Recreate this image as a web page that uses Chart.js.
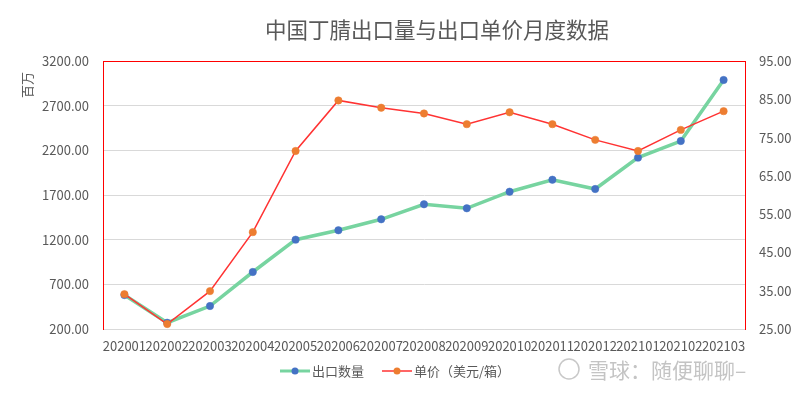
<!DOCTYPE html>
<html>
<head>
<meta charset="utf-8">
<script src="https://cdn.jsdelivr.net/npm/chart.js@4"></script>
<style>
  html, body { margin: 0; padding: 0; background: #fff; }
  #wrap { width: 800px; height: 394px; position: relative; }
</style>
</head>
<body>
<div id="wrap"><canvas id="exportChart"></canvas></div>
<script>
// data
const months = ["202001", "202002", "202003", "202004", "202005", "202006", "202007", "202008",
  "202009", "202010", "202011", "202012", "202101", "202102", "202103"];
const exportVolume = [580, 270, 457, 838, 1200, 1305, 1428, 1596, 1551, 1737, 1871, 1767, 2118, 2304, 2987];
const unitPrice = [34.1, 26.3, 34.9, 50.3, 71.5, 84.7, 82.8, 81.3, 78.5, 81.6, 78.5, 74.4, 71.5, 77.0, 81.9];
const leftRange = [200, 3200, 500];
const rightRange = [25, 95, 10];

const FONT = '"Noto Sans CJK SC", "Noto Sans", sans-serif';
const TEXT = "#595959";

// title, axis unit, top border, legend and watermark
const extras = {
  id: "extras",
  afterDraw(chart) {
    const ctx = chart.ctx;
    const a = chart.chartArea;
    ctx.save();
    // top red border
    ctx.strokeStyle = "#FF0000";
    ctx.lineWidth = 1;
    ctx.beginPath();
    ctx.moveTo(a.left, a.top + 0.5);
    ctx.lineTo(a.right, a.top + 0.5);
    ctx.stroke();

    // title
    ctx.fillStyle = TEXT;
    ctx.font = "21.5px " + FONT;
    ctx.textAlign = "center";
    ctx.textBaseline = "middle";
    ctx.fillText("中国丁腈出口量与出口单价月度数据", 437, 30);

    // unit label
    ctx.save();
    ctx.translate(27, 85);
    ctx.rotate(-Math.PI / 2);
    ctx.font = "13px " + FONT;
    ctx.fillText("百万", 0, 0);
    ctx.restore();

    // legend
    const ly = 371;
    ctx.lineWidth = 3;
    ctx.strokeStyle = "#77D4A0";
    ctx.beginPath(); ctx.moveTo(280, ly); ctx.lineTo(310, ly); ctx.stroke();
    ctx.fillStyle = "#4472C4";
    ctx.beginPath(); ctx.arc(295, ly, 3.5, 0, Math.PI * 2); ctx.fill();
    ctx.lineWidth = 1.5;
    ctx.strokeStyle = "#FF3333";
    ctx.beginPath(); ctx.moveTo(382, ly); ctx.lineTo(412, ly); ctx.stroke();
    ctx.fillStyle = "#ED7D31";
    ctx.beginPath(); ctx.arc(397, ly, 3.5, 0, Math.PI * 2); ctx.fill();
    ctx.fillStyle = TEXT;
    ctx.font = "13px " + FONT;
    ctx.textAlign = "left";
    ctx.fillText("出口数量", 312, ly);
    ctx.fillText("单价（美元/箱）", 414, ly);

    // watermark
    ctx.strokeStyle = "#C8C8C8";
    ctx.lineWidth = 1.5;
    ctx.beginPath(); ctx.arc(569, 369, 10, 0, Math.PI * 2); ctx.stroke();
    ctx.fillStyle = "#C4C4C4";
    ctx.font = "21px " + FONT;
    ctx.fillText("雪球：随便聊聊–", 588, 370);
    ctx.restore();
  }
};

const ctx = document.getElementById("exportChart").getContext("2d");
const exportChart = new Chart(ctx, {
  type: "line",
  data: {
    labels: months,
    datasets: [
      {
        label: "出口数量",
        data: exportVolume,
        yAxisID: "y",
        borderColor: "#77D4A0",
        borderWidth: 3.5,
        pointBackgroundColor: "#4472C4",
        pointBorderColor: "#4472C4",
        pointBorderWidth: 0.5,
        pointRadius: 3.7,
        tension: 0,
        order: 2,
      },
      {
        label: "单价（美元/箱）",
        data: unitPrice,
        yAxisID: "y1",
        borderColor: "#FF3333",
        borderWidth: 1.5,
        pointBackgroundColor: "#ED7D31",
        pointBorderColor: "#ED7D31",
        pointBorderWidth: 0.5,
        pointRadius: 3.7,
        tension: 0,
        order: 1,
      },
    ],
  },
  options: {
    responsive: true,
    maintainAspectRatio: false,
    animation: false,
    layout: { padding: { left: 0, right: 0, top: 61, bottom: 35 } },
    scales: {
      x: {
        offset: true,
        grid: { display: false, drawTicks: false },
        border: { color: "#D9D9D9" },
        ticks: {
          autoSkip: false,
          maxRotation: 0,
          minRotation: 0,
          padding: 9,
          color: TEXT,
          font: { family: FONT, size: 13 },
        },
        afterFit: function (scale) { scale.height = 30; },
      },
      y: {
        position: "left",
        min: leftRange[0],
        max: leftRange[1],
        ticks: {
          stepSize: leftRange[2],
          padding: 14,
          color: TEXT,
          font: { family: FONT, size: 13 },
          callback: function (value) { return value.toFixed(2); },
        },
        grid: { color: "#D9D9D9", drawTicks: false },
        border: { color: "#FF0000" },
        afterFit: function (scale) { scale.width = 103; },
      },
      y1: {
        position: "right",
        min: rightRange[0],
        max: rightRange[1],
        ticks: {
          stepSize: rightRange[2],
          padding: 14,
          color: TEXT,
          font: { family: FONT, size: 13 },
          callback: function (value) { return value.toFixed(2); },
        },
        grid: { display: false, drawTicks: false },
        border: { color: "#FF0000" },
        afterFit: function (scale) { scale.width = 55; },
      },
    },
    plugins: {
      legend: { display: false },
      tooltip: { enabled: false },
    },
  },
  plugins: [extras],
});
</script>
</body>
</html>
